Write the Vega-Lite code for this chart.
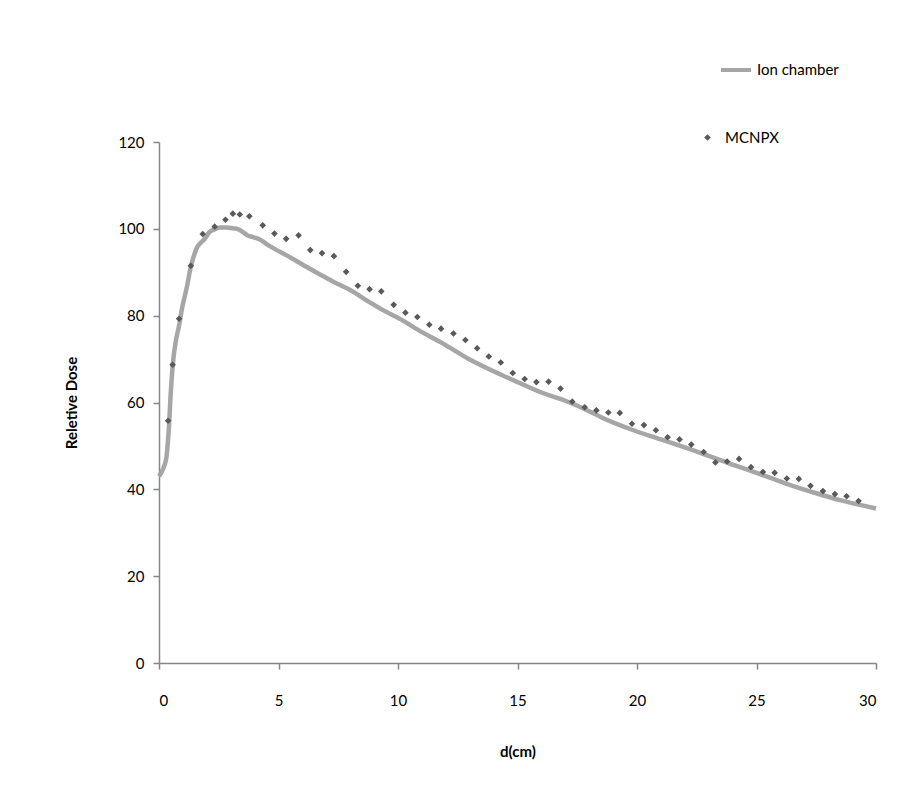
{
  "$schema": "https://vega.github.io/schema/vega-lite/v6.json",
  "width": 717,
  "height": 521,
  "autosize": {"type": "none"},
  "padding": {"left": 159, "top": 142, "right": 36, "bottom": 140},
  "background": "white",
  "config": {
    "view": {"stroke": null},
    "font": "Lato",
    "axis": {
      "domainColor": "#868686",
      "tickColor": "#868686",
      "domainWidth": 1.5,
      "tickWidth": 1.5,
      "grid": false,
      "labelColor": "#000000",
      "labelFontSize": 15,
      "titleColor": "#000000",
      "titleFontSize": 15,
      "titleFontWeight": "bold",
      "labelFont": "Lato",
      "titleFont": "Lato"
    },
    "legend": {"labelFontSize": 15, "labelColor": "#000000", "labelFont": "Lato"}
  },
  "datasets": {
    "ion": [
      {"d": 0, "dose": 43, "series": "Ion chamber"},
      {"d": 0.15, "dose": 44.5, "series": "Ion chamber"},
      {"d": 0.3, "dose": 47, "series": "Ion chamber"},
      {"d": 0.4, "dose": 53, "series": "Ion chamber"},
      {"d": 0.5, "dose": 63, "series": "Ion chamber"},
      {"d": 0.6, "dose": 70, "series": "Ion chamber"},
      {"d": 0.7, "dose": 74, "series": "Ion chamber"},
      {"d": 0.85, "dose": 78, "series": "Ion chamber"},
      {"d": 0.95, "dose": 81.3, "series": "Ion chamber"},
      {"d": 1.1, "dose": 85, "series": "Ion chamber"},
      {"d": 1.2, "dose": 87.5, "series": "Ion chamber"},
      {"d": 1.3, "dose": 90.5, "series": "Ion chamber"},
      {"d": 1.45, "dose": 93.6, "series": "Ion chamber"},
      {"d": 1.6, "dose": 95.8, "series": "Ion chamber"},
      {"d": 1.75, "dose": 96.8, "series": "Ion chamber"},
      {"d": 1.9, "dose": 97.6, "series": "Ion chamber"},
      {"d": 2.1, "dose": 99.2, "series": "Ion chamber"},
      {"d": 2.3, "dose": 99.8, "series": "Ion chamber"},
      {"d": 2.56, "dose": 100.3, "series": "Ion chamber"},
      {"d": 2.84, "dose": 100.3, "series": "Ion chamber"},
      {"d": 3.1, "dose": 100.1, "series": "Ion chamber"},
      {"d": 3.32, "dose": 99.9, "series": "Ion chamber"},
      {"d": 3.5, "dose": 99.3, "series": "Ion chamber"},
      {"d": 3.7, "dose": 98.5, "series": "Ion chamber"},
      {"d": 4.0, "dose": 98.0, "series": "Ion chamber"},
      {"d": 4.3, "dose": 97.3, "series": "Ion chamber"},
      {"d": 4.5, "dose": 96.5, "series": "Ion chamber"},
      {"d": 4.8, "dose": 95.5, "series": "Ion chamber"},
      {"d": 5.3, "dose": 94.0, "series": "Ion chamber"},
      {"d": 6.0, "dose": 91.8, "series": "Ion chamber"},
      {"d": 6.9, "dose": 89.0, "series": "Ion chamber"},
      {"d": 7.4, "dose": 87.5, "series": "Ion chamber"},
      {"d": 8.0, "dose": 85.9, "series": "Ion chamber"},
      {"d": 8.6, "dose": 83.8, "series": "Ion chamber"},
      {"d": 9.3, "dose": 81.5, "series": "Ion chamber"},
      {"d": 10.1, "dose": 79.2, "series": "Ion chamber"},
      {"d": 11.0, "dose": 76.2, "series": "Ion chamber"},
      {"d": 12.0, "dose": 73.2, "series": "Ion chamber"},
      {"d": 13.0, "dose": 69.9, "series": "Ion chamber"},
      {"d": 14.0, "dose": 67.2, "series": "Ion chamber"},
      {"d": 14.8, "dose": 65.2, "series": "Ion chamber"},
      {"d": 16.0, "dose": 62.3, "series": "Ion chamber"},
      {"d": 17.0, "dose": 60.4, "series": "Ion chamber"},
      {"d": 18.0, "dose": 58.0, "series": "Ion chamber"},
      {"d": 18.5, "dose": 56.6, "series": "Ion chamber"},
      {"d": 19.7, "dose": 53.9, "series": "Ion chamber"},
      {"d": 21.0, "dose": 51.5, "series": "Ion chamber"},
      {"d": 22.7, "dose": 48.3, "series": "Ion chamber"},
      {"d": 24.0, "dose": 45.7, "series": "Ion chamber"},
      {"d": 25.0, "dose": 43.8, "series": "Ion chamber"},
      {"d": 26.2, "dose": 41.4, "series": "Ion chamber"},
      {"d": 27.5, "dose": 39.1, "series": "Ion chamber"},
      {"d": 28.5, "dose": 37.5, "series": "Ion chamber"},
      {"d": 30, "dose": 35.6, "series": "Ion chamber"}
    ],
    "mc": [
      {"d": 0.38, "dose": 55.8, "series": "MCNPX"},
      {"d": 0.57, "dose": 68.7, "series": "MCNPX"},
      {"d": 0.84, "dose": 79.3, "series": "MCNPX"},
      {"d": 1.33, "dose": 91.5, "series": "MCNPX"},
      {"d": 1.83, "dose": 98.8, "series": "MCNPX"},
      {"d": 2.33, "dose": 100.5, "series": "MCNPX"},
      {"d": 2.78, "dose": 102.1, "series": "MCNPX"},
      {"d": 3.09, "dose": 103.5, "series": "MCNPX"},
      {"d": 3.38, "dose": 103.3, "series": "MCNPX"},
      {"d": 3.78, "dose": 102.9, "series": "MCNPX"},
      {"d": 4.34, "dose": 100.8, "series": "MCNPX"},
      {"d": 4.83, "dose": 98.9, "series": "MCNPX"},
      {"d": 5.32, "dose": 97.7, "series": "MCNPX"},
      {"d": 5.84, "dose": 98.5, "series": "MCNPX"},
      {"d": 6.33, "dose": 95.1, "series": "MCNPX"},
      {"d": 6.82, "dose": 94.4, "series": "MCNPX"},
      {"d": 7.32, "dose": 93.7, "series": "MCNPX"},
      {"d": 7.83, "dose": 90.1, "series": "MCNPX"},
      {"d": 8.32, "dose": 86.9, "series": "MCNPX"},
      {"d": 8.81, "dose": 86.1, "series": "MCNPX"},
      {"d": 9.30, "dose": 85.6, "series": "MCNPX"},
      {"d": 9.82, "dose": 82.5, "series": "MCNPX"},
      {"d": 10.31, "dose": 80.7, "series": "MCNPX"},
      {"d": 10.81, "dose": 79.7, "series": "MCNPX"},
      {"d": 11.31, "dose": 77.9, "series": "MCNPX"},
      {"d": 11.80, "dose": 77.0, "series": "MCNPX"},
      {"d": 12.32, "dose": 75.9, "series": "MCNPX"},
      {"d": 12.82, "dose": 74.4, "series": "MCNPX"},
      {"d": 13.31, "dose": 72.5, "series": "MCNPX"},
      {"d": 13.80, "dose": 70.6, "series": "MCNPX"},
      {"d": 14.30, "dose": 69.2, "series": "MCNPX"},
      {"d": 14.80, "dose": 66.8, "series": "MCNPX"},
      {"d": 15.30, "dose": 65.4, "series": "MCNPX"},
      {"d": 15.79, "dose": 64.7, "series": "MCNPX"},
      {"d": 16.30, "dose": 64.8, "series": "MCNPX"},
      {"d": 16.80, "dose": 63.2, "series": "MCNPX"},
      {"d": 17.29, "dose": 60.2, "series": "MCNPX"},
      {"d": 17.81, "dose": 58.9, "series": "MCNPX"},
      {"d": 18.30, "dose": 58.2, "series": "MCNPX"},
      {"d": 18.80, "dose": 57.7, "series": "MCNPX"},
      {"d": 19.28, "dose": 57.6, "series": "MCNPX"},
      {"d": 19.79, "dose": 55.1, "series": "MCNPX"},
      {"d": 20.29, "dose": 54.8, "series": "MCNPX"},
      {"d": 20.79, "dose": 53.6, "series": "MCNPX"},
      {"d": 21.28, "dose": 52.0, "series": "MCNPX"},
      {"d": 21.78, "dose": 51.5, "series": "MCNPX"},
      {"d": 22.27, "dose": 50.3, "series": "MCNPX"},
      {"d": 22.79, "dose": 48.6, "series": "MCNPX"},
      {"d": 23.28, "dose": 46.2, "series": "MCNPX"},
      {"d": 23.77, "dose": 46.4, "series": "MCNPX"},
      {"d": 24.27, "dose": 47.0, "series": "MCNPX"},
      {"d": 24.77, "dose": 45.1, "series": "MCNPX"},
      {"d": 25.27, "dose": 44.0, "series": "MCNPX"},
      {"d": 25.76, "dose": 43.8, "series": "MCNPX"},
      {"d": 26.27, "dose": 42.5, "series": "MCNPX"},
      {"d": 26.77, "dose": 42.4, "series": "MCNPX"},
      {"d": 27.26, "dose": 40.8, "series": "MCNPX"},
      {"d": 27.78, "dose": 39.6, "series": "MCNPX"},
      {"d": 28.28, "dose": 38.9, "series": "MCNPX"},
      {"d": 28.77, "dose": 38.4, "series": "MCNPX"},
      {"d": 29.27, "dose": 37.3, "series": "MCNPX"}
    ]
  },
  "encoding": {
    "x": {
      "field": "d",
      "type": "quantitative",
      "scale": {"domain": [0, 30], "nice": false, "zero": true},
      "axis": {"values": [0, 5, 10, 15, 20, 25, 30], "title": "d(cm)", "tickSize": 6, "labelPadding": 24, "titlePadding": 36}
    },
    "y": {
      "field": "dose",
      "type": "quantitative",
      "scale": {"domain": [0, 120], "nice": false},
      "axis": {"values": [0, 20, 40, 60, 80, 100, 120], "title": "Reletive Dose", "tickSize": 6, "labelPadding": 9, "titlePadding": 38}
    }
  },
  "layer": [
    {
      "data": {"name": "ion"},
      "mark": {"type": "line", "strokeWidth": 4.5, "interpolate": "monotone"},
      "encoding": {
        "stroke": {
          "field": "series",
          "type": "nominal",
          "scale": {"domain": ["Ion chamber"], "range": ["#A6A6A6"]},
          "legend": {"title": null, "orient": "none", "legendX": 560, "legendY": -89, "symbolType": "stroke", "symbolStrokeWidth": 4, "symbolSize": 900, "labelOffset": 4}
        }
      }
    },
    {
      "data": {"name": "mc"},
      "mark": {"type": "point", "shape": "diamond", "filled": true, "size": 44, "opacity": 1},
      "encoding": {
        "fill": {
          "field": "series",
          "type": "nominal",
          "scale": {"domain": ["MCNPX"], "range": ["#595959"]},
          "legend": {"title": null, "orient": "none", "legendX": 541, "legendY": -12, "symbolType": "diamond", "symbolSize": 44, "symbolStrokeWidth": 0, "symbolOpacity": 1, "labelOffset": 10}
        }
      }
    }
  ]
}
